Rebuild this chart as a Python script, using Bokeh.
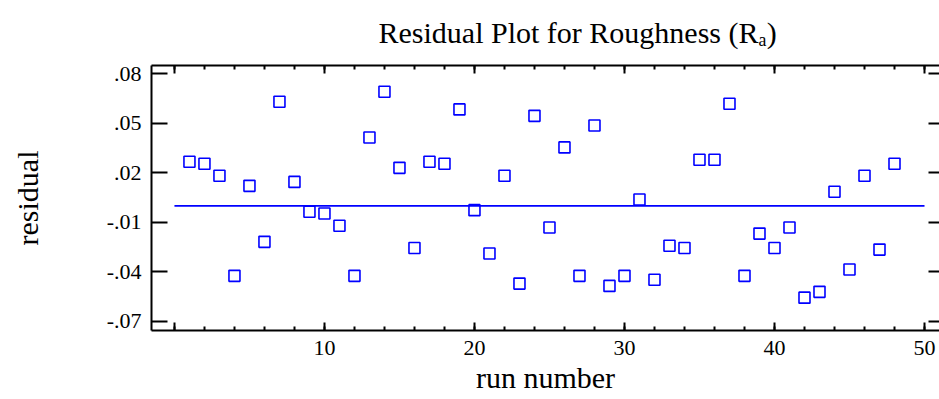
from bokeh.plotting import figure
from bokeh.models import LinearAxis, FixedTicker, Range1d
from bokeh.embed import file_html
from bokeh.resources import INLINE

# ---- data ----
runs = list(range(1, 49))
residuals = [
    0.0267, 0.0255, 0.0182, -0.0424, 0.0121, -0.0218, 0.0630, 0.0145,
    -0.0036, -0.0046, -0.0121, -0.0424, 0.0414, 0.0691, 0.0230, -0.0255,
    0.0267, 0.0255, 0.0584, -0.0026, -0.0289, 0.0182, -0.0471, 0.0545,
    -0.0131, 0.0354, -0.0424, 0.0487, -0.0485, -0.0424, 0.0038, -0.0448,
    -0.0242, -0.0255, 0.0279, 0.0279, 0.0618, -0.0424, -0.0168, -0.0255,
    -0.0131, -0.0556, -0.0521, 0.0085, -0.0386, 0.0182, -0.0265, 0.0255,
]
ref_x = [0, 50]
ref_y = [0, 0]

title_text = "Residual Plot for Roughness (R\u2090)"
y_ticks = [-0.07, -0.04, -0.01, 0.02, 0.05, 0.08]
y_tick_labels = ["-.07", "-.04", "-.01", ".02", ".05", ".08"]
x_ticks = [0, 10, 20, 30, 40, 50]
x_tick_labels = ["", "10", "20", "30", "40", "50"]
x_minor_ticks = list(range(0, 52, 2))

FONT = "Liberation Serif"
BLUE = "#0000FF"

p = figure(
    width=939, height=399,
    x_range=Range1d(-1.53, 51.0), y_range=Range1d(-0.0755, 0.085),
    output_backend="svg", toolbar_location=None,
    min_border_left=151, min_border_right=0, min_border_top=65, min_border_bottom=69,
    title=title_text,
)
p.title.text_font = FONT
p.title.text_font_size = "30px"
p.title.text_font_style = "normal"
p.title.text_color = "black"
p.title.align = "left"
p.title.offset = 227
p.title.standoff = 30
p.title.vertical_align = "top"

p.outline_line_color = None
p.background_fill_color = "white"
p.border_fill_color = "white"
p.xgrid.visible = False
p.ygrid.visible = False

# bottom axis
xa = p.xaxis[0]
xa.ticker = FixedTicker(ticks=x_ticks, minor_ticks=x_minor_ticks)
xa.major_label_overrides = {t: l for t, l in zip(x_ticks, x_tick_labels)}
xa.major_tick_in = 8
xa.major_tick_out = 0
xa.minor_tick_in = 4
xa.minor_tick_out = 0
xa.axis_line_width = 2
xa.axis_line_color = "black"
xa.major_tick_line_width = 2
xa.minor_tick_line_width = 2
xa.major_tick_line_color = "black"
xa.minor_tick_line_color = "black"
xa.major_label_text_font = FONT
xa.major_label_text_font_size = "22px"
xa.major_label_text_color = "black"
xa.major_label_standoff = 10
xa.axis_label = "run number"
xa.axis_label_text_font = FONT
xa.axis_label_text_font_size = "30px"
xa.axis_label_text_font_style = "normal"
xa.axis_label_text_color = "black"
xa.axis_label_standoff = 3

# left axis
ya = p.yaxis[0]
ya.ticker = FixedTicker(ticks=y_ticks, minor_ticks=[])
ya.major_label_overrides = {t: l for t, l in zip(y_ticks, y_tick_labels)}
ya.major_tick_in = 16
ya.major_tick_out = 0
ya.minor_tick_in = 0
ya.minor_tick_out = 0
ya.axis_line_width = 2
ya.axis_line_color = "black"
ya.major_tick_line_width = 2
ya.major_tick_line_color = "black"
ya.major_label_text_font = FONT
ya.major_label_text_font_size = "22px"
ya.major_label_text_color = "black"
ya.major_label_standoff = 10
ya.axis_label = "residual"
ya.axis_label_text_font = FONT
ya.axis_label_text_font_size = "30px"
ya.axis_label_text_font_style = "normal"
ya.axis_label_text_color = "black"
ya.axis_label_standoff = 60

# top axis (ticks only)
top = LinearAxis(
    ticker=FixedTicker(ticks=x_ticks, minor_ticks=x_minor_ticks),
    major_label_text_font_size="0px", major_label_standoff=0,
    major_tick_in=8, major_tick_out=0, minor_tick_in=4, minor_tick_out=0,
    axis_line_width=2, axis_line_color="black",
    major_tick_line_width=2, minor_tick_line_width=2,
)
p.add_layout(top, "above")

# right axis (ticks only)
right = LinearAxis(
    ticker=FixedTicker(ticks=y_ticks, minor_ticks=[]),
    major_label_text_font_size="0px", major_label_standoff=0,
    major_tick_in=11, major_tick_out=0, minor_tick_in=0, minor_tick_out=0,
    axis_line_color=None, major_tick_line_width=2,
)
p.add_layout(right, "right")

p.line(ref_x, ref_y, line_color=BLUE, line_width=1.6)
p.scatter(runs, residuals, marker="square", size=11, fill_color=None,
          line_color=BLUE, line_width=1.6)

open("out.html", "w").write(file_html(p, INLINE))
